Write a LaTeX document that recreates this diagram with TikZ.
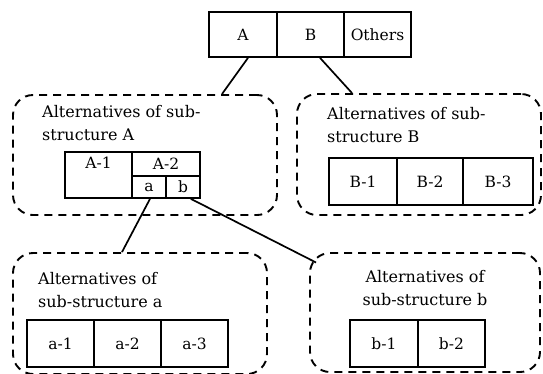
\documentclass[tikz,border=0pt]{standalone}
\usepackage{fontspec}
\setmainfont{DejaVu Serif}
\begin{document}
\begin{tikzpicture}[x=1pt,y=1pt,
  cell/.style={draw, line width=1.7pt, inner sep=0pt, font=\fontsize{15.5}{17}\selectfont},
  group/.style={draw, dash pattern=on 8pt off 6pt, line width=1.9pt, rounded corners=20pt, inner sep=0pt},
  conn/.style={line width=1.7pt},
  txt/.style={inner sep=0pt, font=\fontsize{16}{23}\selectfont}]
\useasboundingbox (0,0) rectangle (543,-373);
% top
\node[cell, minimum width=68, minimum height=45] (A) at (243,-34.5) {A};
\node[cell, minimum width=67, minimum height=45] (B) at (310.5,-34.5) {B};
\node[cell, minimum width=67, minimum height=45] (O) at (377.5,-34.5) {Others};
% groups
\node[group, minimum width=264, minimum height=120] (GA) at (145,-155) {};
\node[group, minimum width=244, minimum height=121] (GB) at (419,-154.5) {};
\node[group, minimum width=254, minimum height=121] (Ga) at (140,-313.5) {};
\node[group, minimum width=230, minimum height=119] (Gb) at (425,-312.5) {};
% group texts
\node[txt, anchor=north west, align=left] (tA) at (42,-105) {Alternatives of sub-\\structure A};
\node[txt, anchor=north west, align=left] (tB) at (327,-107) {Alternatives of sub-\\structure B};
\node[txt, anchor=north west, align=left] (ta) at (38,-272) {Alternatives of\\sub-structure a};
\node[txt, anchor=north, align=center] (tb) at (425,-270) {Alternatives of\\sub-structure b};
% A table
\node[cell, minimum width=67, minimum height=46] (A1) at (98.5,-175) {};
\node[inner sep=0pt, anchor=north, font=\fontsize{15.5}{17}\selectfont] (A1t) at ([yshift=-6]A1.north) {A-1};
\node[cell, minimum width=68, minimum height=24] (A2) at (166,-164) {A-2};
\node[cell, minimum width=34, minimum height=22] (ca) at (149,-187) {a};
\node[cell, minimum width=34, minimum height=22] (cb) at (183,-187) {b};
% B table
\node[cell, minimum width=68, minimum height=47] (B1) at (363,-181.5) {B-1};
\node[cell, minimum width=66, minimum height=47] (B2) at (430,-181.5) {B-2};
\node[cell, minimum width=70, minimum height=47] (B3) at (498,-181.5) {B-3};
% a table
\node[cell, minimum width=67, minimum height=47] (a1) at (60.5,-343.5) {a-1};
\node[cell, minimum width=67, minimum height=47] (a2) at (127.5,-343.5) {a-2};
\node[cell, minimum width=67, minimum height=47] (a3) at (194.5,-343.5) {a-3};
% b table
\node[cell, minimum width=68, minimum height=47] (b1) at (384,-343.5) {b-1};
\node[cell, minimum width=67, minimum height=47] (b2) at (451.5,-343.5) {b-2};
% connectors
\draw[conn] ([xshift=5]A.south) -- ([xshift=77]GA.north);
\draw[conn] ([xshift=9.5]B.south) -- ([xshift=-67]GB.north);
\draw[conn] ([xshift=1]ca.south) -- ([xshift=-18]Ga.north);
\draw[conn] ([xshift=-10]cb.south east) -- ([xshift=7,yshift=50]Gb.west);
\end{tikzpicture}
\end{document}
